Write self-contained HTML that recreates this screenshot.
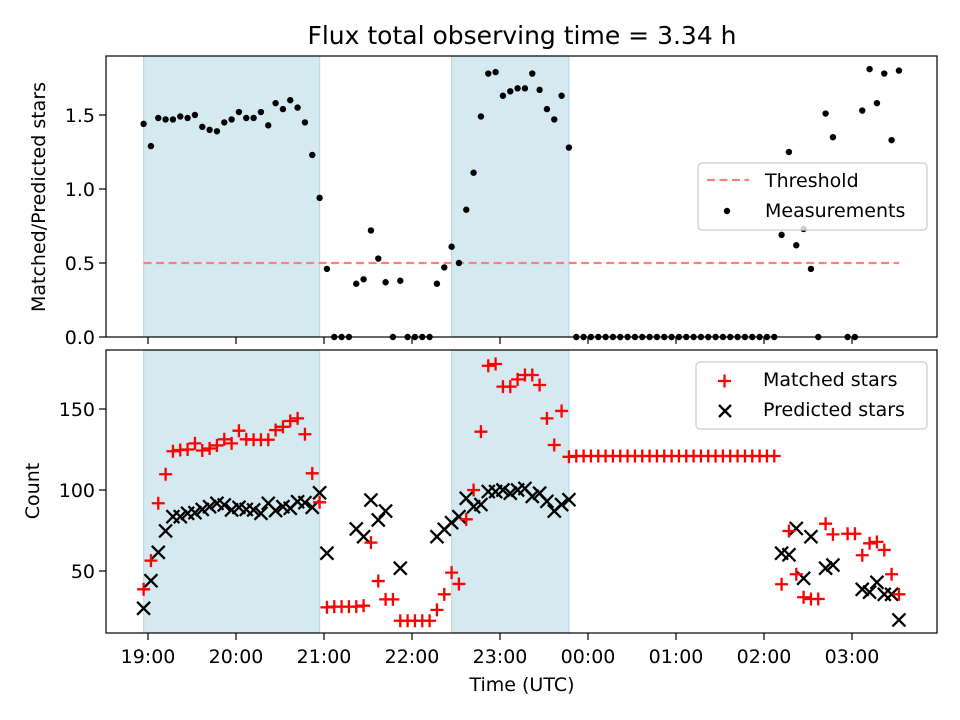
<!DOCTYPE html>
<html><head><meta charset="utf-8"><style>
body{margin:0;background:#fff}
svg{display:block;font-family:"DejaVu Sans","Liberation Sans",sans-serif}
</style></head><body>
<svg id="chart" width="960" height="720" viewBox="0 0 960 720">
<text x="522" y="44" font-size="25" text-anchor="middle">Flux total observing time = 3.34 h</text>
<g id="gtop"></g>
<g id="gbot"></g>
<text transform="translate(45,197) rotate(-90)" font-size="19" text-anchor="middle">Matched/Predicted stars</text>
<text transform="translate(39,491) rotate(-90)" font-size="19" text-anchor="middle">Count</text>
<text x="522" y="691" font-size="19" text-anchor="middle">Time (UTC)</text>
</svg>
<script>
// minutes since 19:00
const times=[-3,2,7,12,17,22,27,32,37,42,47,52,57,62,67,72,77,82,87,92,97,102,107,112,117,122,127,132,137,142,147,152,157,162,167,172,177,182,187,192,197,202,207,212,217,222,227,232,237,242,247,252,257,262,267,272,277,282,287,292,297,302,307,312,317,322,327,332,337,342,347,352,357,362,367,372,377,382,387,392,397,402,407,412,417,422,427,432,437,442,447,452,457,462,467,472,477,482,487,492,497,502,507,512];
const ratio=[1.44,1.29,1.48,1.47,1.47,1.49,1.48,1.50,1.42,1.40,1.39,1.45,1.47,1.52,1.48,1.48,1.52,1.43,1.58,1.54,1.60,1.55,1.45,1.23,0.94,
0.46,0,0,0,0.36,0.39,0.72,0.53,0.37,0,0.38,0,0,0,0,0.36,0.47,0.61,0.50,0.86,1.11,
1.49,1.78,1.79,1.63,1.66,1.68,1.68,1.78,1.67,1.54,1.47,1.63,1.28,
0,0,0,0,0,0,0,0,0,0,0,0,0,0,0,0,0,0,0,0,0,0,0,0,0,0,0,0,
0.69,1.25,0.62,0.73,0.46,0,1.51,1.35,null,0,0,1.53,1.81,1.58,1.78,1.33,1.80];
const matched=[38.7,56.4,91.8,109.7,123.9,124.7,125,128.8,124.4,125.6,127.5,131.3,128.8,136.6,131.3,131,131,131,137,139,142.6,144.2,134.4,110.3,92.4,
27.6,28,28,28,28,28.6,67.5,43.8,32.5,32.5,19.3,19.3,19.3,19.3,19.3,26,35.6,49,42,81.9,100,
136,176.7,177.8,163.8,163.8,168.3,171,171,164.8,144.2,127.8,148.8,120.5,
121,121,121,121,121,121,121,121,121,121,121,121,121,121,121,121,121,121,121,121,121,121,121,121,121,121,121,121,
41.8,74.7,48,33.8,32.7,32.7,79.2,72.6,null,73,73,59.7,67.1,68,63,48,35.6];
const predicted=[27,44,61.5,74.7,83.5,83.5,85.6,86,88,89.7,91.8,90.8,87.7,89.3,88,87.7,85.6,91.8,87.3,89.7,88.7,92.8,92.2,89.3,98.3,
61,null,null,null,76,71.2,93.8,81.5,87,null,51.7,null,null,null,null,71.2,75.7,79.8,83.5,94.9,89.7,
91,99,99,100,98,100,101,96,98,93,87,91,94,
null,null,null,null,null,null,null,null,null,null,null,null,null,null,null,null,null,null,null,null,null,null,null,null,null,null,null,null,
61,60,76.3,45.5,71.2,null,51.7,53.7,null,null,null,38.7,36.9,43,35.6,35.6,19.8];
const spans=[[-3,117],[207,287]];
const threshold=0.5;
const xTicks=[0,60,120,180,240,300,360,420,480];
const xTickLabels=["19:00","20:00","21:00","22:00","23:00","00:00","01:00","02:00","03:00"];
const topTicks=[0,0.5,1.0,1.5];
const topTickLabels=["0.0","0.5","1.0","1.5"];
const botTicks=[50,100,150];
const botTickLabels=["50","100","150"];

const NS="http://www.w3.org/2000/svg";
const L=106,R=937,T1=56,B1=337,T2=350,B2=633;
function xPx(t){return 148+t*88/60;}
function yTop(v){return 337-v*148;}
function yBot(c){return 571-(c-50)*1.62;}
function mk(tag,attrs,parent){const e=document.createElementNS(NS,tag);for(const k in attrs)e.setAttribute(k,attrs[k]);parent.appendChild(e);return e;}
const gTop=document.getElementById('gtop'),gBot=document.getElementById('gbot');

function panel(g,T,B,name){
  spans.forEach((s,i)=>{
    const r=mk('rect',{x:xPx(s[0]),y:T,width:xPx(s[1])-xPx(s[0]),height:B-T,fill:'#d4e9f0',stroke:'#b9dce6','stroke-width':1.2},g);
    
    
  });
  xTicks.forEach((t,i)=>{
    const l=mk('line',{x1:xPx(t),x2:xPx(t),y1:B,y2:B+7,stroke:'#000','stroke-width':1.2},g);
    
    
  });
}
panel(gTop,T1,B1,'top');
panel(gBot,T2,B2,'bottom');

const th=mk('line',{x1:xPx(times[0]),x2:xPx(times[times.length-1]),y1:yTop(threshold),y2:yTop(threshold),stroke:'#ff7f7f','stroke-width':2.2,'stroke-dasharray':'8,4.5'},gTop);



times.forEach((t,i)=>{
  if(ratio[i]!==null){
    const c=mk('circle',{cx:xPx(t),cy:yTop(ratio[i]),r:3.2,fill:'#000'},gTop);
    
    
  }
});
times.forEach((t,i)=>{
  if(predicted[i]!==null){
    const x=xPx(t),y=yBot(predicted[i]),d=6.5;
    const p=mk('path',{d:`M${x-d},${y-d}L${x+d},${y+d}M${x-d},${y+d}L${x+d},${y-d}`,stroke:'#000','stroke-width':2.3},gBot);
    
    
  }
});
times.forEach((t,i)=>{
  if(matched[i]!==null){
    const x=xPx(t),y=yBot(matched[i]),d=6.5;
    const p=mk('path',{d:`M${x-d},${y}L${x+d},${y}M${x},${y-d}L${x},${y+d}`,stroke:'#ff0000','stroke-width':2.3},gBot);
    
    
  }
});

[[gTop,T1,B1],[gBot,T2,B2]].forEach(([g,T,B])=>{
  const f=mk('rect',{x:L,y:T,width:R-L,height:B-T,fill:'none',stroke:'#000','stroke-width':1.2},g);
  
  
});
topTicks.forEach((v,i)=>{
  const y=yTop(v);
  const l=mk('line',{x1:L-7,x2:L,y1:y,y2:y,stroke:'#000','stroke-width':1.2},gTop);
  
  
  const tx=mk('text',{x:L-11,y:y+7,'font-size':19,'text-anchor':'end'},gTop);
  tx.textContent=topTickLabels[i];
  
  
});
botTicks.forEach((v,i)=>{
  const y=yBot(v);
  const l=mk('line',{x1:L-7,x2:L,y1:y,y2:y,stroke:'#000','stroke-width':1.2},gBot);
  
  
  const tx=mk('text',{x:L-11,y:y+7,'font-size':19,'text-anchor':'end'},gBot);
  tx.textContent=botTickLabels[i];
  
  
});
xTicks.forEach((t,i)=>{
  const tx=mk('text',{x:xPx(t),y:663,'font-size':19,'text-anchor':'middle'},gBot);
  tx.textContent=xTickLabels[i];
  
  
});

function legend(g,x,y,w,h,name){
  const r=mk('rect',{x:x,y:y,width:w,height:h,rx:4,fill:'#fff','fill-opacity':0.8,stroke:'#cccccc','stroke-width':1.2},g);
  
  
}
legend(gTop,698,163,229,67,'top-legend');
const ld=mk('line',{x1:707,x2:749,y1:180,y2:180,stroke:'#ff7f7f','stroke-width':2.2,'stroke-dasharray':'8,4.5'},gTop);


const lt1=mk('text',{x:765,y:187,'font-size':19},gTop);lt1.textContent='Threshold';


const lc=mk('circle',{cx:727,cy:211,r:3.2,fill:'#000'},gTop);


const lt2=mk('text',{x:765,y:217,'font-size':19},gTop);lt2.textContent='Measurements';



legend(gBot,696,362,231,67,'bottom-legend');
const lp=mk('path',{d:'M718,381L731,381M724.5,374.5L724.5,387.5',stroke:'#ff0000','stroke-width':2.3},gBot);


const lt3=mk('text',{x:763,y:386,'font-size':19},gBot);lt3.textContent='Matched stars';


const lx=mk('path',{d:'M719,405L731,417M719,417L731,405',stroke:'#000','stroke-width':2.3},gBot);


const lt4=mk('text',{x:763,y:416,'font-size':19},gBot);lt4.textContent='Predicted stars';


</script>
</body></html>
